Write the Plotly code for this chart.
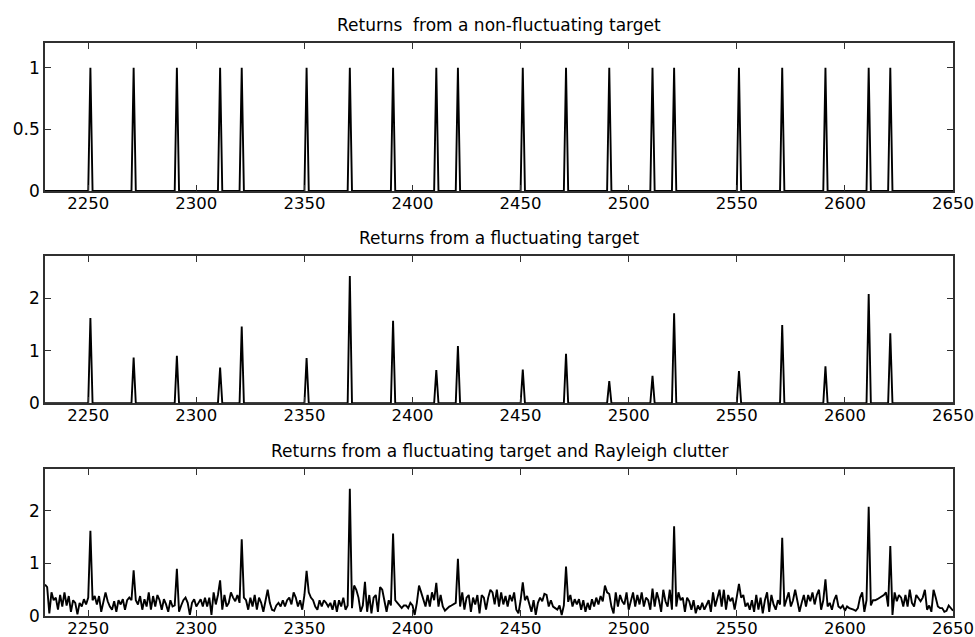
import plotly.graph_objects as go

# Range cells (samples) shown on every panel
x_start, x_end = 2230, 2650

# Target positions (range cells) and their return amplitudes
pulse_positions = [2251, 2271, 2291, 2311, 2321, 2351, 2371, 2391, 2411, 2421,
                   2451, 2471, 2491, 2511, 2521, 2551, 2571, 2591, 2611, 2621]
steady_amplitude = [1.0, 1.0, 1.0, 1.0, 1.0, 1.0, 1.0, 1.0, 1.0, 1.0,
                    1.0, 1.0, 1.0, 1.0, 1.0, 1.0, 1.0, 1.0, 1.0, 1.0]
fluct_amplitude = [1.62, 0.87, 0.90, 0.68, 1.46, 0.86, 2.42, 1.57, 0.63, 1.09,
                   0.64, 0.94, 0.42, 0.52, 1.71, 0.61, 1.49, 0.70, 2.08, 1.33]

# Rayleigh clutter envelope, one value per range cell from 2230 to 2650
clutter = [
    0.60, 0.55, 0.05, 0.45, 0.30, 0.35, 0.12, 0.40, 0.18, 0.45,  # 2230
    0.20, 0.38, 0.08, 0.30, 0.25, 0.03, 0.25, 0.18, 0.32, 0.22,  # 2240
    0.35, 0.30, 0.30, 0.38, 0.22, 0.38, 0.08, 0.25, 0.45, 0.28,  # 2250
    0.18, 0.12, 0.28, 0.08, 0.30, 0.22, 0.32, 0.12, 0.30, 0.35,  # 2260
    0.30, 0.30, 0.30, 0.22, 0.38, 0.12, 0.32, 0.18, 0.45, 0.12,  # 2270
    0.38, 0.18, 0.40, 0.30, 0.12, 0.32, 0.22, 0.08, 0.30, 0.18,  # 2280
    0.20, 0.25, 0.08, 0.20, 0.30, 0.35, 0.25, 0.02, 0.25, 0.32,  # 2290
    0.18, 0.25, 0.32, 0.18, 0.35, 0.18, 0.35, 0.02, 0.45, 0.22,  # 2300
    0.40, 0.30, 0.12, 0.40, 0.18, 0.25, 0.45, 0.35, 0.28, 0.40,  # 2310
    0.25, 0.35, 0.35, 0.30, 0.12, 0.35, 0.18, 0.40, 0.12, 0.35,  # 2320
    0.25, 0.08, 0.30, 0.50, 0.25, 0.12, 0.10, 0.20, 0.25, 0.18,  # 2330
    0.30, 0.18, 0.30, 0.35, 0.22, 0.45, 0.35, 0.18, 0.30, 0.12,  # 2340
    0.40, 0.30, 0.45, 0.35, 0.30, 0.18, 0.12, 0.30, 0.18, 0.30,  # 2350
    0.25, 0.18, 0.25, 0.12, 0.30, 0.08, 0.30, 0.18, 0.35, 0.12,  # 2360
    0.20, 0.20, 0.15, 0.58, 0.50, 0.35, 0.08, 0.20, 0.65, 0.08,  # 2370
    0.40, 0.05, 0.35, 0.40, 0.08, 0.55, 0.50, 0.30, 0.08, 0.30,  # 2380
    0.20, 0.30, 0.30, 0.25, 0.20, 0.15, 0.20, 0.20, 0.15, 0.25,  # 2390
    0.20, 0.02, 0.25, 0.58, 0.45, 0.30, 0.18, 0.40, 0.18, 0.45,  # 2400
    0.30, 0.30, 0.18, 0.40, 0.18, 0.10, 0.15, 0.18, 0.20, 0.22,  # 2410
    0.25, 0.25, 0.18, 0.45, 0.12, 0.35, 0.40, 0.08, 0.35, 0.22,  # 2420
    0.40, 0.05, 0.40, 0.35, 0.12, 0.35, 0.50, 0.45, 0.22, 0.50,  # 2430
    0.18, 0.45, 0.22, 0.38, 0.18, 0.40, 0.28, 0.45, 0.12, 0.05,  # 2440
    0.30, 0.30, 0.30, 0.38, 0.22, 0.08, 0.30, 0.02, 0.25, 0.35,  # 2450
    0.28, 0.42, 0.40, 0.18, 0.30, 0.18, 0.15, 0.12, 0.20, 0.02,  # 2460
    0.20, 0.20, 0.27, 0.40, 0.18, 0.32, 0.22, 0.32, 0.12, 0.30,  # 2470
    0.08, 0.25, 0.12, 0.32, 0.18, 0.35, 0.22, 0.38, 0.28, 0.58,  # 2480
    0.45, 0.30, 0.18, 0.05, 0.45, 0.18, 0.40, 0.28, 0.22, 0.45,  # 2490
    0.12, 0.30, 0.45, 0.18, 0.40, 0.22, 0.45, 0.18, 0.35, 0.30,  # 2500
    0.12, 0.30, 0.18, 0.45, 0.30, 0.08, 0.50, 0.28, 0.18, 0.50,  # 2510
    0.12, 0.20, 0.18, 0.45, 0.30, 0.35, 0.08, 0.35, 0.28, 0.12,  # 2520
    0.30, 0.05, 0.20, 0.12, 0.25, 0.12, 0.20, 0.30, 0.08, 0.45,  # 2530
    0.18, 0.35, 0.50, 0.18, 0.50, 0.12, 0.40, 0.28, 0.35, 0.12,  # 2540
    0.35, 0.30, 0.35, 0.40, 0.18, 0.25, 0.12, 0.30, 0.08, 0.40,  # 2550
    0.12, 0.35, 0.05, 0.30, 0.45, 0.08, 0.40, 0.22, 0.12, 0.30,  # 2560
    0.22, 0.25, 0.18, 0.32, 0.45, 0.18, 0.30, 0.50, 0.28, 0.08,  # 2570
    0.25, 0.40, 0.18, 0.40, 0.28, 0.45, 0.22, 0.40, 0.50, 0.12,  # 2580
    0.30, 0.30, 0.18, 0.25, 0.12, 0.30, 0.40, 0.18, 0.15, 0.20,  # 2590
    0.10, 0.18, 0.15, 0.14, 0.12, 0.10, 0.15, 0.35, 0.45, 0.08,  # 2600
    0.30, 0.30, 0.20, 0.30, 0.30, 0.32, 0.35, 0.38, 0.40, 0.45,  # 2610
    0.18, 0.25, 0.02, 0.45, 0.28, 0.40, 0.35, 0.18, 0.40, 0.18,  # 2620
    0.50, 0.25, 0.18, 0.40, 0.35, 0.28, 0.35, 0.50, 0.12, 0.20,  # 2630
    0.08, 0.50, 0.35, 0.18, 0.15, 0.15, 0.08, 0.10, 0.20, 0.15,  # 2640
    0.10,                                                        # 2650
]

panel_titles = [
    "Returns\u00a0 from a non-fluctuating target",
    "Returns from a fluctuating target",
    "Returns from a fluctuating target and Rayleigh clutter",
]
x_ticks = [2250, 2300, 2350, 2400, 2450, 2500, 2550, 2600, 2650]

# Build the sampled range profiles
cells = list(range(x_start, x_end + 1))
steady = [0.0] * len(cells)
fluct = [0.0] * len(cells)
for pos, a1, a2 in zip(pulse_positions, steady_amplitude, fluct_amplitude):
    steady[pos - x_start] = a1
    fluct[pos - x_start] = a2
with_clutter = [max(c, f) for c, f in zip(clutter, fluct)]

FONT = "DejaVu Sans"
AXIS_COLOR = "#303030"
line_style = dict(color="black", width=1.9)

fig = go.Figure()
fig.add_trace(go.Scatter(x=cells, y=steady, mode="lines", line=line_style,
                         xaxis="x", yaxis="y"))
fig.add_trace(go.Scatter(x=cells, y=fluct, mode="lines", line=line_style,
                         xaxis="x2", yaxis="y2"))
fig.add_trace(go.Scatter(x=cells, y=with_clutter, mode="lines", line=line_style,
                         xaxis="x3", yaxis="y3"))


def x_axis(anchor):
    return dict(
        range=[x_start, x_end], tickvals=x_ticks, anchor=anchor,
        ticks="inside", ticklen=6, tickwidth=1.3, tickcolor=AXIS_COLOR,
        showline=True, linecolor=AXIS_COLOR, linewidth=1.5, mirror="ticks",
        showgrid=False, zeroline=False, automargin=False,
        ticklabelstandoff=-4,
        tickfont=dict(family=FONT, size=16.5, color="black"),
    )


def y_axis(anchor, domain, rng, vals, text):
    return dict(
        domain=domain, range=rng, tickvals=vals, ticktext=text, anchor=anchor,
        ticks="inside", ticklen=6, tickwidth=1.3, tickcolor=AXIS_COLOR,
        showline=True, linecolor=AXIS_COLOR, linewidth=1.5, mirror="ticks",
        showgrid=False, zeroline=False, automargin=False,
        tickfont=dict(family=FONT, size=17, color="black"),
    )


fig.update_layout(
    width=975, height=637,
    margin=dict(l=45, r=22, t=43, b=21),
    paper_bgcolor="white", plot_bgcolor="white",
    showlegend=False,
    xaxis=x_axis("y"),
    xaxis2=x_axis("y2"),
    xaxis3=x_axis("y3"),
    yaxis=y_axis("x", [0.7416, 1.0], [0, 1.2], [0, 0.5, 1], ["0", "0.5", "1"]),
    yaxis2=y_axis("x2", [0.3714, 0.6281], [0, 2.8], [0, 1, 2], ["0", "1", "2"]),
    yaxis3=y_axis("x3", [0.0, 0.2567], [0, 2.8], [0, 1, 2], ["0", "1", "2"]),
)

for title, ypos in zip(panel_titles, [1.031, 0.660, 0.288]):
    fig.add_annotation(text=title, x=0.5, y=ypos, xref="paper", yref="paper",
                       xanchor="center", yanchor="middle", showarrow=False,
                       font=dict(family=FONT, size=17, color="black"))

fig.write_html("out.html")
